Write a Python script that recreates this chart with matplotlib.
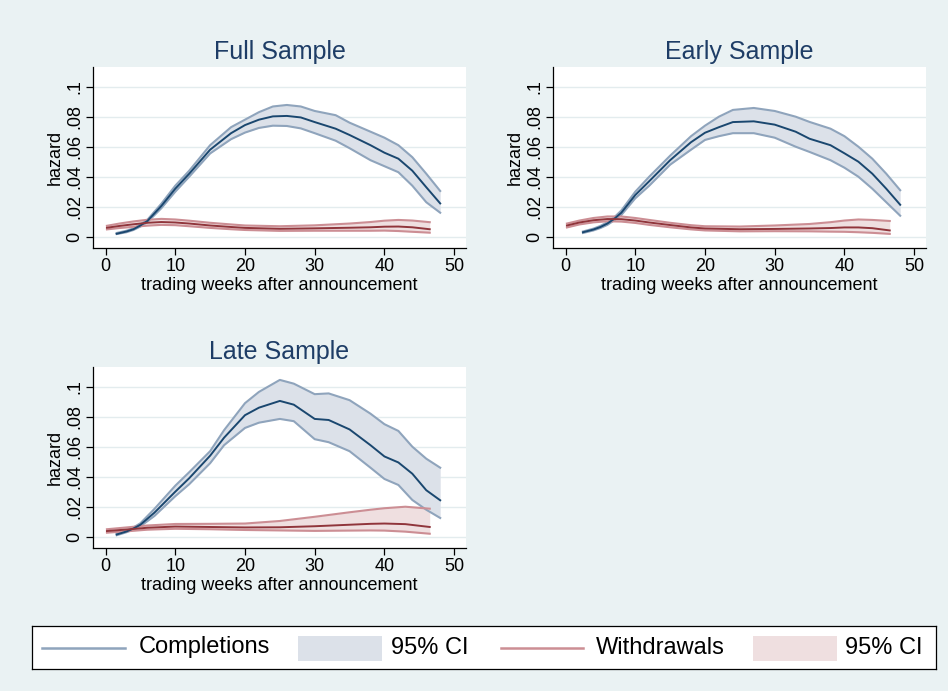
import matplotlib

matplotlib.use("Agg")
import matplotlib.pyplot as plt
from matplotlib.patches import Rectangle

# Full sample
full_comp_x = [1.6, 3, 4, 5, 6, 8, 10, 12, 15, 18, 20, 22, 24, 26, 28, 30, 33, 35, 38, 40, 42, 44, 46, 48]
full_comp = [0.002, 0.0035, 0.005, 0.0075, 0.0105, 0.0205, 0.032, 0.042, 0.058, 0.069, 0.0744, 0.078,
             0.0802, 0.0805, 0.0795, 0.0764, 0.072, 0.0678, 0.061, 0.056, 0.052, 0.044, 0.033, 0.0222]
full_comp_lo = [0.0018, 0.003, 0.0045, 0.0068, 0.0097, 0.019, 0.030, 0.040, 0.0555, 0.065, 0.0694, 0.0725,
                0.074, 0.0738, 0.0722, 0.069, 0.064, 0.059, 0.051, 0.047, 0.043, 0.034, 0.023, 0.016]
full_comp_hi = [0.0025, 0.004, 0.0056, 0.0082, 0.0113, 0.022, 0.034, 0.044, 0.061, 0.073, 0.078, 0.083,
                0.0868, 0.0878, 0.0868, 0.0838, 0.081, 0.076, 0.070, 0.066, 0.061, 0.053, 0.042, 0.0305]
full_wd_x = [0.2, 2, 4, 6, 8, 10, 12, 15, 18, 20, 25, 30, 35, 38, 40, 42, 44, 46.5]
full_wd = [0.006, 0.0072, 0.0083, 0.0093, 0.0098, 0.0095, 0.0088, 0.0075, 0.0065, 0.0059, 0.0053, 0.0056,
           0.006, 0.0063, 0.0067, 0.0068, 0.0063, 0.005]
full_wd_lo = [0.0049, 0.0058, 0.0066, 0.0074, 0.0079, 0.0077, 0.0070, 0.0059, 0.0050, 0.0045, 0.0039, 0.0040,
              0.0040, 0.0040, 0.0041, 0.0038, 0.0033, 0.0027]
full_wd_hi = [0.0073, 0.0088, 0.0102, 0.0113, 0.0119, 0.0115, 0.0107, 0.0093, 0.0082, 0.0075, 0.007, 0.0076,
              0.0088, 0.0098, 0.0107, 0.0112, 0.0108, 0.0097]

# Early sample
early_comp_x = [2.5, 4, 5, 6, 7, 8, 10, 12, 15, 18, 20, 22, 24, 27, 30, 33, 35, 38, 40, 42, 44, 46, 48]
early_comp = [0.003, 0.0048, 0.0065, 0.0088, 0.012, 0.016, 0.0278, 0.037, 0.051, 0.063, 0.0693, 0.073,
              0.0764, 0.0769, 0.0747, 0.070, 0.0653, 0.061, 0.0556, 0.050, 0.042, 0.032, 0.0213]
early_comp_lo = [0.0025, 0.0042, 0.0058, 0.0079, 0.011, 0.0145, 0.0256, 0.034, 0.048, 0.058, 0.0645, 0.067,
                 0.069, 0.069, 0.066, 0.060, 0.0565, 0.051, 0.046, 0.040, 0.032, 0.023, 0.014]
early_comp_hi = [0.0035, 0.0054, 0.0072, 0.0097, 0.013, 0.0175, 0.030, 0.040, 0.054, 0.067, 0.074, 0.080,
                 0.0845, 0.0858, 0.0838, 0.080, 0.0765, 0.072, 0.067, 0.060, 0.052, 0.042, 0.031]
early_wd_x = [0.2, 2, 4, 6, 8, 10, 12, 15, 18, 20, 25, 30, 35, 38, 40, 42, 44, 46.5]
early_wd = [0.0075, 0.0095, 0.011, 0.0118, 0.0117, 0.0108, 0.0095, 0.0078, 0.0062, 0.0055, 0.005, 0.0052,
            0.0055, 0.0058, 0.0062, 0.0062, 0.0057, 0.0042]
early_wd_lo = [0.0062, 0.0082, 0.0096, 0.0103, 0.0101, 0.0092, 0.0079, 0.0063, 0.0049, 0.0042, 0.0036, 0.0037,
               0.0036, 0.0034, 0.0033, 0.003, 0.0026, 0.0019]
early_wd_hi = [0.0088, 0.0108, 0.0125, 0.0135, 0.0135, 0.0125, 0.0112, 0.0093, 0.0077, 0.007, 0.0068, 0.0075,
               0.0085, 0.0097, 0.0108, 0.0115, 0.0112, 0.0105]

# Late sample
late_comp_x = [1.6, 3, 4, 5, 7, 10, 12, 15, 17, 20, 22, 25, 27, 30, 32, 35, 38, 40, 42, 44, 46, 48]
late_comp = [0.0015, 0.0035, 0.0055, 0.008, 0.016, 0.030, 0.039, 0.054, 0.066, 0.081, 0.086, 0.0905,
             0.088, 0.0785, 0.0778, 0.0715, 0.061, 0.0535, 0.0495, 0.042, 0.031, 0.0243]
late_comp_lo = [0.001, 0.003, 0.0048, 0.007, 0.0138, 0.027, 0.035, 0.049, 0.061, 0.0725, 0.076, 0.0785,
                0.077, 0.065, 0.063, 0.057, 0.046, 0.0385, 0.0345, 0.0245, 0.018, 0.0125]
late_comp_hi = [0.002, 0.004, 0.0062, 0.009, 0.0185, 0.034, 0.043, 0.057, 0.071, 0.089, 0.0965, 0.1045,
                0.102, 0.095, 0.0955, 0.091, 0.082, 0.075, 0.0705, 0.06, 0.052, 0.046]
late_wd_x = [0.2, 3, 6, 10, 15, 20, 25, 30, 35, 38, 40, 43, 46.5]
late_wd = [0.0038, 0.0048, 0.006, 0.0068, 0.0065, 0.0062, 0.0063, 0.007, 0.008, 0.0086, 0.0088, 0.0084, 0.0065]
late_wd_lo = [0.0027, 0.0036, 0.0047, 0.0053, 0.005, 0.0045, 0.0042, 0.0039, 0.0041, 0.0042, 0.0041, 0.0034, 0.002]
late_wd_hi = [0.005, 0.0062, 0.0075, 0.0085, 0.0086, 0.0088, 0.0105, 0.0133, 0.0163, 0.018, 0.019, 0.020, 0.0187]

y_ticks = [0, 0.02, 0.04, 0.06, 0.08, 0.1]
y_tick_labels = ["0", ".02", ".04", ".06", ".08", ".1"]
x_ticks = [0, 10, 20, 30, 40, 50]
legend_labels = ["Completions", "95% CI", "Withdrawals", "95% CI"]

BG = "#EAF2F3"
NAVY = "#1A476F"
NAVY_FILL = "#DCE1E9"
NAVY_EDGE = "#8FA4BC"
MAROON = "#90353B"
MAROON_FILL = "#EFDFE0"
MAROON_EDGE = "#CC8E94"

plt.rcParams["font.family"] = ["Liberation Sans", "DejaVu Sans"]


def plot_panel(axis, title, comp, wd) -> None:
    axis.set_facecolor("white")
    for (x, est, lo, hi), fill, edge, line in (
        (comp, NAVY_FILL, NAVY_EDGE, NAVY),
        (wd, MAROON_FILL, MAROON_EDGE, MAROON),
    ):
        axis.fill_between(x, lo, hi, color=fill, linewidth=0, zorder=2)
        axis.plot(x, lo, color=edge, linewidth=1.5, zorder=3)
        axis.plot(x, hi, color=edge, linewidth=1.5, zorder=3)
        axis.plot(x, est, color=line, linewidth=1.4, zorder=4)
    axis.set_xlim(-1.8, 51.7)
    axis.set_ylim(-0.0075, 0.1131)
    axis.set_xticks(x_ticks)
    axis.set_yticks(y_ticks, y_tick_labels, rotation=90, va="center")
    axis.tick_params(labelsize=13, length=5, width=0.9, color="black", pad=2)
    axis.grid(axis="y", color="#E3ECEE", linewidth=1.0, zorder=0)
    axis.set_axisbelow(True)
    for side in ("top", "right"):
        axis.spines[side].set_visible(False)
    for side in ("left", "bottom"):
        axis.spines[side].set_color("black")
        axis.spines[side].set_linewidth(0.9)
    axis.set_xlabel("trading weeks after announcement", fontsize=13, labelpad=1.5)
    axis.set_ylabel("hazard", fontsize=13, labelpad=2)
    axis.set_title(title, fontsize=18, color="#1E3D66", pad=6)


def draw_legend(figure, W, H) -> None:
    # legend box laid out in pixel units of the box itself
    box_w, box_h = 904, 43
    axis = figure.add_axes([32 / W, 1 - 669 / H, box_w / W, box_h / H])
    axis.set_xlim(0, box_w)
    axis.set_ylim(0, box_h)
    axis.set_xticks([])
    axis.set_yticks([])
    axis.set_facecolor("white")
    for spine in axis.spines.values():
        spine.set_color("black")
        spine.set_linewidth(0.9)
    entries = [
        ("line", NAVY_EDGE, 10, 93, 107),
        ("patch", NAVY_FILL, 266, 350, 359),
        ("line", MAROON_EDGE, 469, 551, 564),
        ("patch", MAROON_FILL, 721, 805, 813),
    ]
    for (kind, color, x0, x1, tx), label in zip(entries, legend_labels):
        if kind == "line":
            axis.plot([x0, x1], [21.5, 21.5], color=color, linewidth=1.8)
        else:
            axis.add_patch(Rectangle((x0, 8), x1 - x0, 25, facecolor=color, edgecolor="none"))
        axis.text(tx, 21.5, label, fontsize=17, va="center", ha="left")


figure = plt.figure(figsize=(9.48, 6.91), dpi=100, facecolor=BG)
W, H = 948, 691
panels = [
    ("Full Sample", (full_comp_x, full_comp, full_comp_lo, full_comp_hi),
     (full_wd_x, full_wd, full_wd_lo, full_wd_hi), 93, 67),
    ("Early Sample", (early_comp_x, early_comp, early_comp_lo, early_comp_hi),
     (early_wd_x, early_wd, early_wd_lo, early_wd_hi), 553, 67),
    ("Late Sample", (late_comp_x, late_comp, late_comp_lo, late_comp_hi),
     (late_wd_x, late_wd, late_wd_lo, late_wd_hi), 93, 367),
]
for title, comp, wd, left, top in panels:
    axis = figure.add_axes([left / W, 1 - (top + 181) / H, 373 / W, 181 / H])
    plot_panel(axis, title, comp, wd)

draw_legend(figure, W, H)

figure.savefig("out.png", dpi=100, facecolor=BG)
